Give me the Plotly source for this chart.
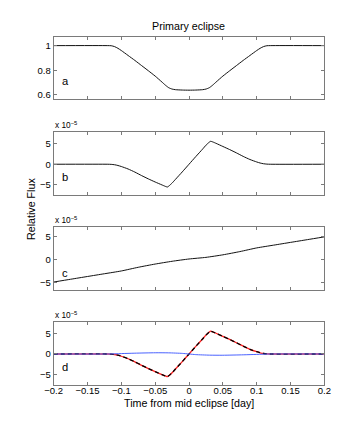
import plotly.graph_objects as go

# ---------------- data ----------------
x_ticks = [-0.2, -0.15, -0.1, -0.05, 0, 0.05, 0.1, 0.15, 0.2]
x_tick_labels = ["\u22120.2", "\u22120.15", "\u22120.1", "\u22120.05", "0", "0.05", "0.1", "0.15", "0.2"]

t_ecl = [-0.2, -0.12, -0.115, -0.11, -0.105, -0.10, -0.09, -0.08, -0.07, -0.06, -0.05, -0.04,
         -0.035, -0.032, -0.03, -0.025, -0.02, -0.01, 0.0, 0.01, 0.02, 0.025, 0.03, 0.032,
         0.035, 0.04, 0.05, 0.06, 0.07, 0.08, 0.09, 0.10, 0.105, 0.11, 0.115, 0.12, 0.2]

flux_a = [1.0, 1.0, 0.999, 0.992, 0.978, 0.96, 0.92, 0.88, 0.838, 0.796, 0.753, 0.705,
          0.68, 0.667, 0.659, 0.648, 0.643, 0.64, 0.639, 0.64, 0.643, 0.648, 0.659, 0.667,
          0.68, 0.705, 0.753, 0.796, 0.838, 0.88, 0.92, 0.96, 0.978, 0.992, 0.999, 1.0, 1.0]

flux_b = [0.0, 0.0, -0.03, -0.12, -0.3, -0.55, -1.15, -1.9, -2.75, -3.55, -4.3, -5.0,
          -5.35, -5.5, -5.3, -4.55, -3.65, -1.85, 0.0, 1.85, 3.65, 4.6, 5.35, 5.55,
          5.4, 5.05, 4.3, 3.55, 2.75, 1.9, 1.15, 0.55, 0.3, 0.12, 0.03, 0.0, 0.0]

t_c = [-0.2, -0.175, -0.15, -0.125, -0.1, -0.075, -0.05, -0.025, 0.0, 0.025, 0.05, 0.075,
       0.1, 0.125, 0.15, 0.175, 0.2]
flux_c = [-4.9, -4.3, -3.7, -3.1, -2.5, -1.7, -1.0, -0.4, 0.1, 0.45, 1.0, 1.7,
          2.5, 3.1, 3.7, 4.3, 4.9]

fit_d = [0.0, 0.0, -0.03, -0.12, -0.3, -0.55, -1.15, -1.9, -2.75, -3.55, -4.3, -5.0,
         -5.35, -5.5, -5.3, -4.55, -3.65, -1.85, 0.0, 1.85, 3.65, 4.6, 5.35, 5.55,
         5.4, 5.05, 4.3, 3.55, 2.75, 1.9, 1.15, 0.55, 0.3, 0.12, 0.03, 0.0, 0.0]

t_res = [-0.2, -0.12, -0.1, -0.08, -0.05, -0.03, -0.01, 0.0, 0.01, 0.03, 0.05, 0.08, 0.1, 0.12, 0.2]
resid_d = [0.0, 0.0, 0.1, 0.2, 0.3, 0.28, 0.15, 0.0, -0.15, -0.28, -0.3, -0.2, -0.1, 0.0, 0.0]

# ---------------- figure ----------------
W, H = 364, 434
FONT = "Liberation Sans, Arial, Helvetica, sans-serif"
AXC = "#7a7a7a"
TICK_SIZE = 9.5
LABEL_SIZE = 10.7

def px(x):
    return x / W

def py(y):
    return 1 - y / H

fig = go.Figure()

def add(x, y, k, color="black", width=1.0, dash="solid"):
    fig.add_trace(go.Scatter(x=x, y=y, mode="lines", xaxis="x" + ("" if k == 1 else str(k)),
                             yaxis="y" + ("" if k == 1 else str(k)),
                             line=dict(color=color, width=width, dash=dash, shape="spline", smoothing=0.6),
                             showlegend=False, hoverinfo="skip"))

add(t_ecl, flux_a, 1, color="#111111")
add(t_ecl, flux_b, 2, color="#111111")
add(t_c, flux_c, 3, color="#111111")
add(t_ecl, fit_d, 4, color="#ff2020", width=1.3)
add(t_ecl, flux_b, 4, color="black", width=1.3, dash="4px,3px")
add(t_res, resid_d, 4, color="#4a62ff", width=1.0)

x0, x1 = px(46.7), px(329.9)
panels = [(37.3, 99.3), (132.3, 195.7), (227.7, 291.0), (322.7, 385.7)]
yranges = [[0.567, 1.068], [-7.5, 7.8], [-6.7, 7.0], [-7.5, 7.8]]
ytv = [[0.6, 0.8, 1.0], [-5, 0, 5], [-5, 0, 5], [-5, 0, 5]]
ytt = [["0.6", "0.8", "1"], ["\u22125", "0", "5"], ["\u22125", "0", "5"], ["\u22125", "0", "5"]]

layout = dict(width=W, height=H, margin=dict(l=0, r=0, t=0, b=0),
              paper_bgcolor="white", plot_bgcolor="white",
              font=dict(family=FONT, size=LABEL_SIZE, color="black"))

for i, (top, bot) in enumerate(panels):
    k = i + 1
    xs = "xaxis" + ("" if k == 1 else str(k))
    ys = "yaxis" + ("" if k == 1 else str(k))
    layout[xs] = dict(domain=[x0, x1], anchor="y" + ("" if k == 1 else str(k)),
                      range=[-0.2, 0.2], tickvals=x_ticks, ticktext=x_tick_labels,
                      showticklabels=(k == 4), ticks="inside", ticklen=3, tickcolor=AXC,
                      showline=True, linecolor=AXC, linewidth=1, mirror="ticks",
                      ticklabelstandoff=-3,
                      showgrid=False, zeroline=False, tickfont=dict(size=TICK_SIZE, family=FONT))
    layout[ys] = dict(domain=[py(bot), py(top)], anchor="x" + ("" if k == 1 else str(k)),
                      range=yranges[i], tickvals=ytv[i], ticktext=ytt[i],
                      ticks="inside", ticklen=3, tickcolor=AXC,
                      showline=True, linecolor=AXC, linewidth=1, mirror="ticks",
                      showgrid=False, zeroline=False, tickfont=dict(size=TICK_SIZE, family=FONT))

annotations = [
    dict(text="Primary eclipse", x=px(188), y=py(26), xref="paper", yref="paper",
         showarrow=False, font=dict(size=LABEL_SIZE), xanchor="center", yanchor="middle"),
    dict(text="Time from mid eclipse [day]", x=px(188), y=py(404), xref="paper", yref="paper",
         showarrow=False, font=dict(size=LABEL_SIZE), xanchor="center", yanchor="middle"),
    dict(text="Relative Flux", x=px(23), y=py(209.5), xref="paper", yref="paper",
         showarrow=False, font=dict(size=LABEL_SIZE), textangle=-90, xanchor="center", yanchor="middle"),
]
letters = ["a", "b", "c", "d"]
letter_y = [80.7, 177.7, 274.0, 367.7]
for L, ly in zip(letters, letter_y):
    annotations.append(dict(text=L, x=px(53), y=py(ly), xref="paper", yref="paper",
                            showarrow=False, font=dict(size=LABEL_SIZE + 0.5), xanchor="left", yanchor="middle"))
for top, _ in panels[1:]:
    annotations.append(dict(text="x 10<sup>\u22125</sup>", x=px(46), y=py(top - 7),
                            xref="paper", yref="paper", showarrow=False,
                            font=dict(size=8.3), xanchor="left", yanchor="middle"))
layout["annotations"] = annotations

fig.update_layout(**layout)
fig.write_html("out.html",
               config={"displayModeBar": False, "staticPlot": True},
               post_script="document.body.style.margin='0';document.body.style.overflow='hidden';")
